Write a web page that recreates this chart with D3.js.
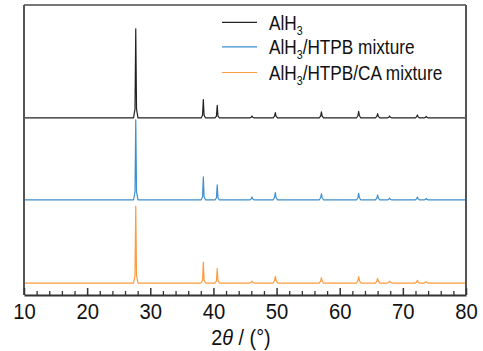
<!DOCTYPE html>
<html>
<head>
<meta charset="utf-8">
<script src="https://cdn.jsdelivr.net/npm/d3@7"></script>
<style>
  html, body { margin: 0; padding: 0; background: #fff; }
  svg { display: block; font-family: "Liberation Sans", Arial, sans-serif; }
</style>
</head>
<body>
<svg id="chart" width="483" height="351"></svg>
<script>
// ---- data ----
const seriesNames = ["AlH3", "AlH3/HTPB mixture", "AlH3/HTPB/CA mixture"];
const seriesColors = ["#222222", "#3d8fcf", "#fd9b3f"];
const seriesOffsets = [196.7, 105.6, 13.3];

const twoTheta = [10,
  27.35, 27.58, 27.7, 27.82, 28.05,
  38.05, 38.28, 38.4, 38.52, 38.75,
  40.25, 40.48, 40.6, 40.72, 40.95,
  45.75, 45.98, 46.1, 46.22, 46.45,
  49.45, 49.68, 49.8, 49.92, 50.15,
  56.75, 56.98, 57.1, 57.22, 57.45,
  62.65, 62.88, 63.0, 63.12, 63.35,
  65.65, 65.88, 66.0, 66.12, 66.35,
  67.55, 67.78, 67.9, 68.02, 68.25,
  71.95, 72.18, 72.3, 72.42, 72.65,
  73.35, 73.58, 73.7, 73.82, 74.05,
  80];

const intensityAlH3 = [0,
  0, 10, 99, 10, 0,
  0, 3, 20.4, 3, 0,
  0, 2, 14.1, 2, 0,
  0, 0.8, 2.2, 0.8, 0,
  0, 2, 6, 2, 0,
  0, 2, 6.7, 2, 0,
  0, 2.5, 7.4, 2.5, 0,
  0, 1.8, 4.9, 1.8, 0,
  0, 0.8, 2.2, 0.8, 0,
  0, 1.2, 3.3, 1.2, 0,
  0, 0.6, 1.7, 0.6, 0,
  0];

const intensityHTPB = [0,
  0, 9, 89, 9, 0,
  0, 3.5, 25.6, 3.5, 0,
  0, 2.5, 16.7, 2.5, 0,
  0, 1.2, 3.3, 1.2, 0,
  0, 3, 8.1, 3, 0,
  0, 2.5, 6.7, 2.5, 0,
  0, 2.5, 7.4, 2.5, 0,
  0, 2, 5.6, 2, 0,
  0, 0.8, 2.2, 0.8, 0,
  0, 1.2, 3.3, 1.2, 0,
  0, 0.6, 1.7, 0.6, 0,
  0];

const intensityCA = [0,
  0, 8.5, 85.5, 8.5, 0,
  0, 3.2, 23.3, 3.2, 0,
  0, 2.3, 15.9, 2.3, 0,
  0, 0.8, 2.2, 0.8, 0,
  0, 2.8, 7.4, 2.8, 0,
  0, 2.2, 5.9, 2.2, 0,
  0, 2.6, 7, 2.6, 0,
  0, 2, 5.2, 2, 0,
  0, 0.8, 2.2, 0.8, 0,
  0, 1.1, 3, 1.1, 0,
  0, 0.5, 1.4, 0.5, 0,
  0];

const xTicks = [10, 20, 30, 40, 50, 60, 70, 80];
const xMinorTicks = [12, 14, 16, 18, 22, 24, 26, 28, 32, 34, 36, 38, 42, 44, 46, 48,
  52, 54, 56, 58, 62, 64, 66, 68, 72, 74, 76, 78];

// ---- layout ----
const mLeft = 24, mRight = 466, mTop = 5, mBottom = 295;
const svg = d3.select("#chart");

const x = d3.scaleLinear().domain([10, 80]).range([mLeft, mRight]);
const y = d3.scaleLinear().domain([0, 322.2]).range([mBottom, mTop]);

const allIntensities = [intensityAlH3, intensityHTPB, intensityCA];

// series lines
const line = d3.line()
  .x(d => x(d[0]))
  .y(d => y(d[1]));

allIntensities.forEach((vals, i) => {
  const pts = twoTheta.map((t, k) => [t, vals[k] + seriesOffsets[i]]);
  svg.append("path")
    .datum(pts)
    .attr("fill", "none")
    .attr("stroke", seriesColors[i])
    .attr("stroke-width", 1.2)
    .attr("stroke-linejoin", "round")
    .attr("d", line);
});

// frame (top, right, left)
const frameColor = "#555";
svg.append("line").attr("x1", mLeft).attr("x2", mRight).attr("y1", mTop).attr("y2", mTop)
  .attr("stroke", "#777").attr("stroke-width", 2);
svg.append("line").attr("x1", mRight).attr("x2", mRight).attr("y1", mTop).attr("y2", mBottom)
  .attr("stroke", frameColor).attr("stroke-width", 2);
svg.append("line").attr("x1", mLeft).attr("x2", mLeft).attr("y1", mTop).attr("y2", mBottom)
  .attr("stroke", frameColor).attr("stroke-width", 2);

// minor ticks
svg.append("g")
  .attr("transform", `translate(0,${mBottom})`)
  .call(d3.axisBottom(x).tickValues(xMinorTicks).tickSize(-4).tickFormat(""))
  .call(g => g.select(".domain").remove())
  .call(g => g.selectAll("line").attr("stroke", "#333").attr("stroke-width", 1.3));

// major axis
const ax = svg.append("g")
  .attr("transform", `translate(0,${mBottom})`)
  .call(d3.axisBottom(x).tickValues(xTicks).tickSizeInner(-7).tickSizeOuter(0).tickPadding(8));
ax.select(".domain").attr("stroke", "#333").attr("stroke-width", 2);
ax.selectAll(".tick line").attr("stroke", "#333").attr("stroke-width", 1.5);
ax.selectAll(".tick text")
  .attr("font-size", 22)
  .attr("font-family", "'Liberation Sans', Arial, sans-serif")
  .attr("fill", "#111")
  .attr("transform", "scale(0.92,1)");

// axis title
const title = svg.append("g").attr("transform", "translate(241,345) scale(0.9,1)")
  .append("text")
  .attr("text-anchor", "middle")
  .attr("font-size", 22)
  .attr("fill", "#111");
title.append("tspan").text("2");
title.append("tspan").attr("font-style", "italic").text("θ");
title.append("tspan").text(" / (°)");

// legend
const legendRowsY = [22.3, 46.9, 72.5];
seriesNames.forEach((name, i) => {
  const cy = legendRowsY[i];
  svg.append("line")
    .attr("x1", 222).attr("x2", 257).attr("y1", cy).attr("y2", cy)
    .attr("stroke", seriesColors[i]).attr("stroke-width", 1.2);
  const t = svg.append("g")
    .attr("transform", `translate(269,${cy + 7.5}) scale(0.82,1)`)
    .append("text")
    .attr("font-size", 21)
    .attr("fill", "#111");
  t.append("tspan").text("AlH");
  t.append("tspan").attr("font-size", 13).attr("dy", 5).text("3");
  const rest = name.slice(4);
  if (rest) t.append("tspan").attr("dy", -5).text(rest);
});
</script>
</body>
</html>
